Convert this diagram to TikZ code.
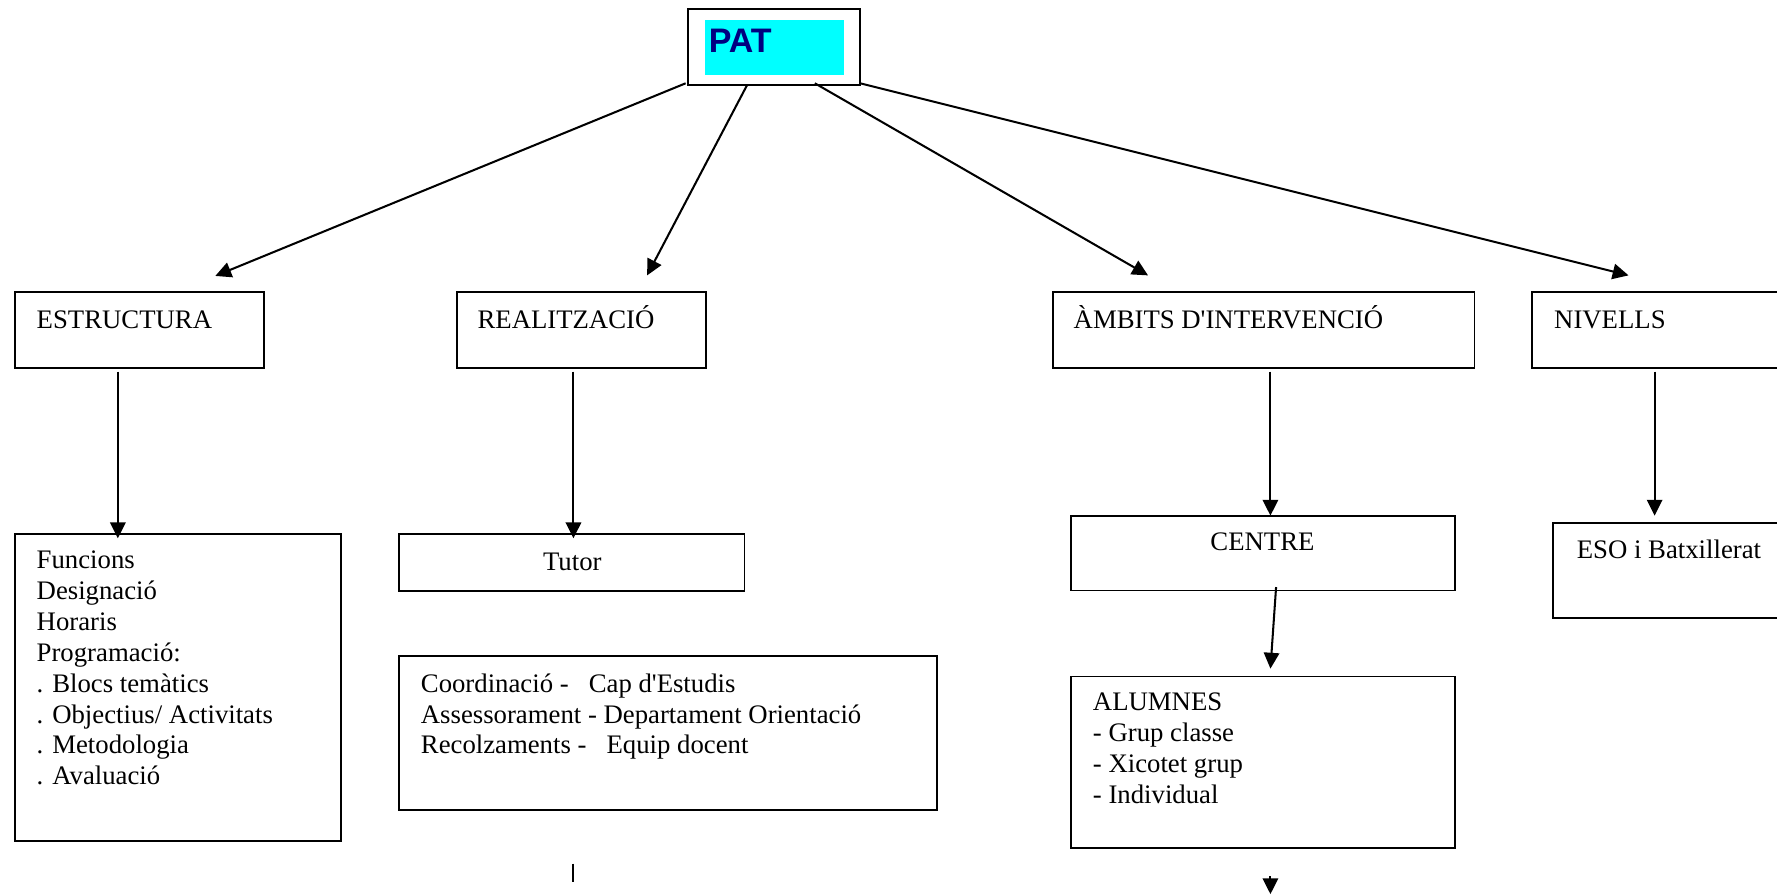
\documentclass[tikz,border=0pt]{standalone}
\usepackage{fontspec}
\setmainfont{Liberation Serif}[Ligatures=TeXOff]
\newfontfamily\arialfont{Liberation Sans}[Ligatures=TeXOff]
\usetikzlibrary{arrows.meta}
\definecolor{patcyan}{RGB}{0,255,255}
\definecolor{patnavy}{RGB}{0,0,128}
\newcommand{\linesblock}[1]{\begin{tabular}[t]{@{}l@{}}#1\end{tabular}}
\begin{document}
\begin{tikzpicture}[x=0.5pt,y=-0.5pt,
  box/.style={draw=black, line width=0.8pt, rectangle, inner sep=0pt, outer sep=0pt, anchor=north west},
  txt/.style={anchor=base west, inner sep=0pt, font=\fontsize{11.8}{13.65}\selectfont},
  ctxt/.style={anchor=base, inner sep=0pt, font=\fontsize{11.8}{13.65}\selectfont},
  arr/.style={line width=0.9pt, -{Triangle[length=7pt,width=6.8pt]}},
  plain/.style={line width=0.9pt}]
\useasboundingbox (0,0) rectangle (1568,790);
\clip (0,0) rectangle (1568,790);
% boxes
\node[box, minimum width=76pt, minimum height=33.5pt] (pat) at (607,8) {};
\node[box, draw=none, fill=patcyan, minimum width=61.5pt, minimum height=24pt] (patbg) at (622,18) {};
\node[anchor=base west, inner sep=0pt, font=\arialfont\bfseries\fontsize{15}{17}\selectfont, text=patnavy] (pattxt) at (625,46) {PAT};
\node[box, minimum width=110pt, minimum height=33.5pt] (estr) at (13,258) {};
\node[box, minimum width=110pt, minimum height=33.5pt] (real) at (403,258) {};
\node[box, minimum width=186pt, minimum height=33.5pt] (amb) at (929,258) {};
\node[box, minimum width=160pt, minimum height=33.5pt] (niv) at (1352,258) {};
\node[box, minimum width=144pt, minimum height=135.5pt] (func) at (13,471) {};
\node[box, minimum width=152.5pt, minimum height=25pt] (tutor) at (352,471.5) {};
\node[box, minimum width=237.5pt, minimum height=68pt] (coord) at (352,579) {};
\node[box, minimum width=169.5pt, minimum height=33pt] (centre) at (945,455) {};
\node[box, minimum width=169.5pt, minimum height=75.5pt] (alum) at (945,597) {};
\node[box, minimum width=160pt, minimum height=42pt] (eso) at (1370,461.5) {};
% texts
\node[txt] (testr) at (32,289.6) {ESTRUCTURA};
\node[txt] (treal) at (421,289.6) {REALITZACIÓ};
\node[txt] (tamb) at (947,289.6) {ÀMBITS D'INTERVENCIÓ};
\node[txt] (tniv) at (1371,289.6) {NIVELLS};
\node[txt] (tfunc) at (32,501.5) {\linesblock{Funcions\\Designació\\Horaris\\Programació:\\. Blocs temàtics\\. Objectius/ Activitats\\. Metodologia\\. Avaluació}};
\node[ctxt] (ttutor) at (505,503) {Tutor};
\node[txt] (tcoord) at (371,610.7) {\linesblock{Coordinació -~~~Cap d'Estudis\\Assessorament - Departament Orientació\\Recolzaments -~~~Equip docent}};
\node[ctxt] (tcentre) at (1114,486) {CENTRE};
\node[txt] (talum) at (964,627) {\linesblock{ALUMNES\\- Grup classe\\- Xicotet grup\\- Individual}};
\node[txt] (teso) at (1391,492.6) {ESO i Batxillerat};
% connector end points
\coordinate (p1) at (605,73.5);
\coordinate (p2) at (659,75.5);
\coordinate (p3) at (719,73.5);
\coordinate (p4) at (759,73.5);
\coordinate (e1) at (190,243.5);
\coordinate (e2) at (571,243);
\coordinate (e3) at (1013,243);
\coordinate (e4) at (1437,243);
\coordinate (s1) at (104,328);
\coordinate (t1) at (104,475);
\coordinate (s2) at (506,328);
\coordinate (t2) at (506,475);
\coordinate (s3) at (1121,328);
\coordinate (t3) at (1121,455);
\coordinate (s4) at (1460,328);
\coordinate (t4) at (1460,455);
\coordinate (s5) at (1126,518);
\coordinate (t5) at (1121,590);
\coordinate (s6) at (1121,773);
\coordinate (t6) at (1121,789);
\coordinate (b1) at (506,762);
\coordinate (b2) at (506,778);
% connectors
\draw[arr] (p1) -- (e1);
\draw[arr] (p2) -- (e2);
\draw[arr] (p3) -- (e3);
\draw[arr] (p4) -- (e4);
\draw[arr] (s1) -- (t1);
\draw[arr] (s2) -- (t2);
\draw[arr] (s3) -- (t3);
\draw[arr] (s4) -- (t4);
\draw[arr] (s5) -- (t5);
\draw[arr] (s6) -- (t6);
\draw[plain] (b1) -- (b2);
\end{tikzpicture}
\end{document}
